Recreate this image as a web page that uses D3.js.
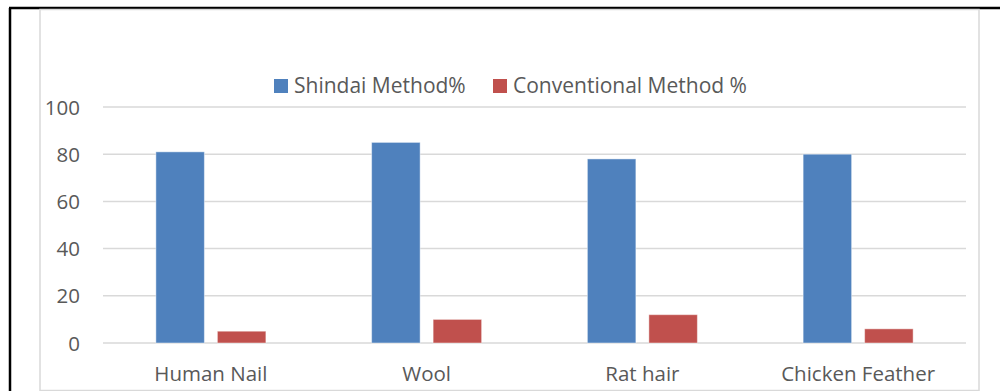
<!DOCTYPE html>
<html>
<head>
<meta charset="utf-8">
<script src="https://cdn.jsdelivr.net/npm/d3@7"></script>
<style>
  html, body { margin: 0; padding: 0; background: #fff; }
  svg { display: block; }
  text { font-family: "Open Sans", "Noto Sans", sans-serif; fill: #595959; }
</style>
</head>
<body>
<svg id="chart" width="1000" height="391"></svg>
<script>
// Chart data
const categories = ["Human Nail", "Wool", "Rat hair", "Chicken Feather"];
const seriesNames = ["Shindai Method%", "Conventional Method %"];
const shindai = [81, 85, 78, 80];
const conventional = [5, 10, 12, 6];
const yTicks = [0, 20, 40, 60, 80, 100];
const colors = ["#4F81BD", "#C0504D"];

const svg = d3.select("#chart");
const W = 1000, H = 391;

// Outer frame (black) and chart area (grey)
svg.append("rect").attr("x", 0).attr("y", 0).attr("width", W).attr("height", H).attr("fill", "#fff");
svg.append("line").attr("x1", 10).attr("x2", 10).attr("y1", 8).attr("y2", H).attr("stroke", "#000").attr("stroke-width", 2.5);
svg.append("line").attr("x1", 9).attr("x2", W).attr("y1", 8).attr("y2", 8).attr("stroke", "#000").attr("stroke-width", 2.5);
svg.append("rect").attr("x", 40).attr("y", 9.5).attr("width", 939).attr("height", 381)
  .attr("fill", "none").attr("stroke", "#d9d9d9").attr("stroke-width", 1.5);

const plot = { left: 103, right: 966, top: 107, bottom: 343 };

const x0 = d3.scaleBand().domain(categories).range([plot.left, plot.right]).paddingInner(0).paddingOuter(0);
const y = d3.scaleLinear().domain([0, 100]).range([plot.bottom, plot.top]);

// Gridlines
svg.append("g").selectAll("line").data(yTicks).join("line")
  .attr("x1", plot.left).attr("x2", plot.right)
  .attr("y1", d => y(d)).attr("y2", d => y(d))
  .attr("stroke", "#d9d9d9").attr("stroke-width", 1.5);

const fontFam = '"Open Sans", "Noto Sans", sans-serif';

// Y axis labels
const yAxis = d3.axisLeft(y).tickValues(yTicks).tickSize(0).tickPadding(0);
const gy = svg.append("g").attr("transform", `translate(80,0)`).call(yAxis);
gy.select(".domain").remove();
gy.selectAll("text").attr("font-size", 20.5).attr("fill", "#595959")
  .style("font-family", fontFam).attr("dy", "0.35em");

// X axis labels
const xAxis = d3.axisBottom(x0).tickSize(0).tickPadding(0);
const gx = svg.append("g").attr("transform", `translate(0,${plot.bottom})`).call(xAxis);
gx.select(".domain").remove();
gx.selectAll("text").attr("font-size", 20.5).attr("fill", "#595959").attr("y", 38).attr("dy", 0)
  .style("font-family", fontFam);

// Bars
const barW = 48.5, gap = 13;
const rows = categories.map((c, i) => ({ c, vals: [shindai[i], conventional[i]] }));
const groups = svg.append("g").selectAll("g").data(rows).join("g")
  .attr("transform", d => `translate(${x0(d.c) + x0.bandwidth() / 2},0)`);
groups.selectAll("rect").data(d => d.vals.map((v, j) => ({ v, j }))).join("rect")
  .attr("x", d => d.j === 0 ? -(barW + gap / 2) : gap / 2)
  .attr("width", barW)
  .attr("y", d => y(d.v))
  .attr("height", d => y(0) - y(d.v))
  .attr("fill", d => colors[d.j])
  .attr("stroke", "#fff").attr("stroke-opacity", 0.45).attr("stroke-width", 1);

// Legend
const legend = svg.append("g");
const legendItems = [{ x: 274, name: seriesNames[0], col: colors[0] }, { x: 493, name: seriesNames[1], col: colors[1] }];
legendItems.forEach(it => {
  legend.append("rect").attr("x", it.x).attr("y", 79).attr("width", 14).attr("height", 14).attr("fill", it.col);
  legend.append("text").attr("x", it.x + 20).attr("y", 93).attr("font-size", 21).text(it.name);
});
</script>
</body>
</html>
